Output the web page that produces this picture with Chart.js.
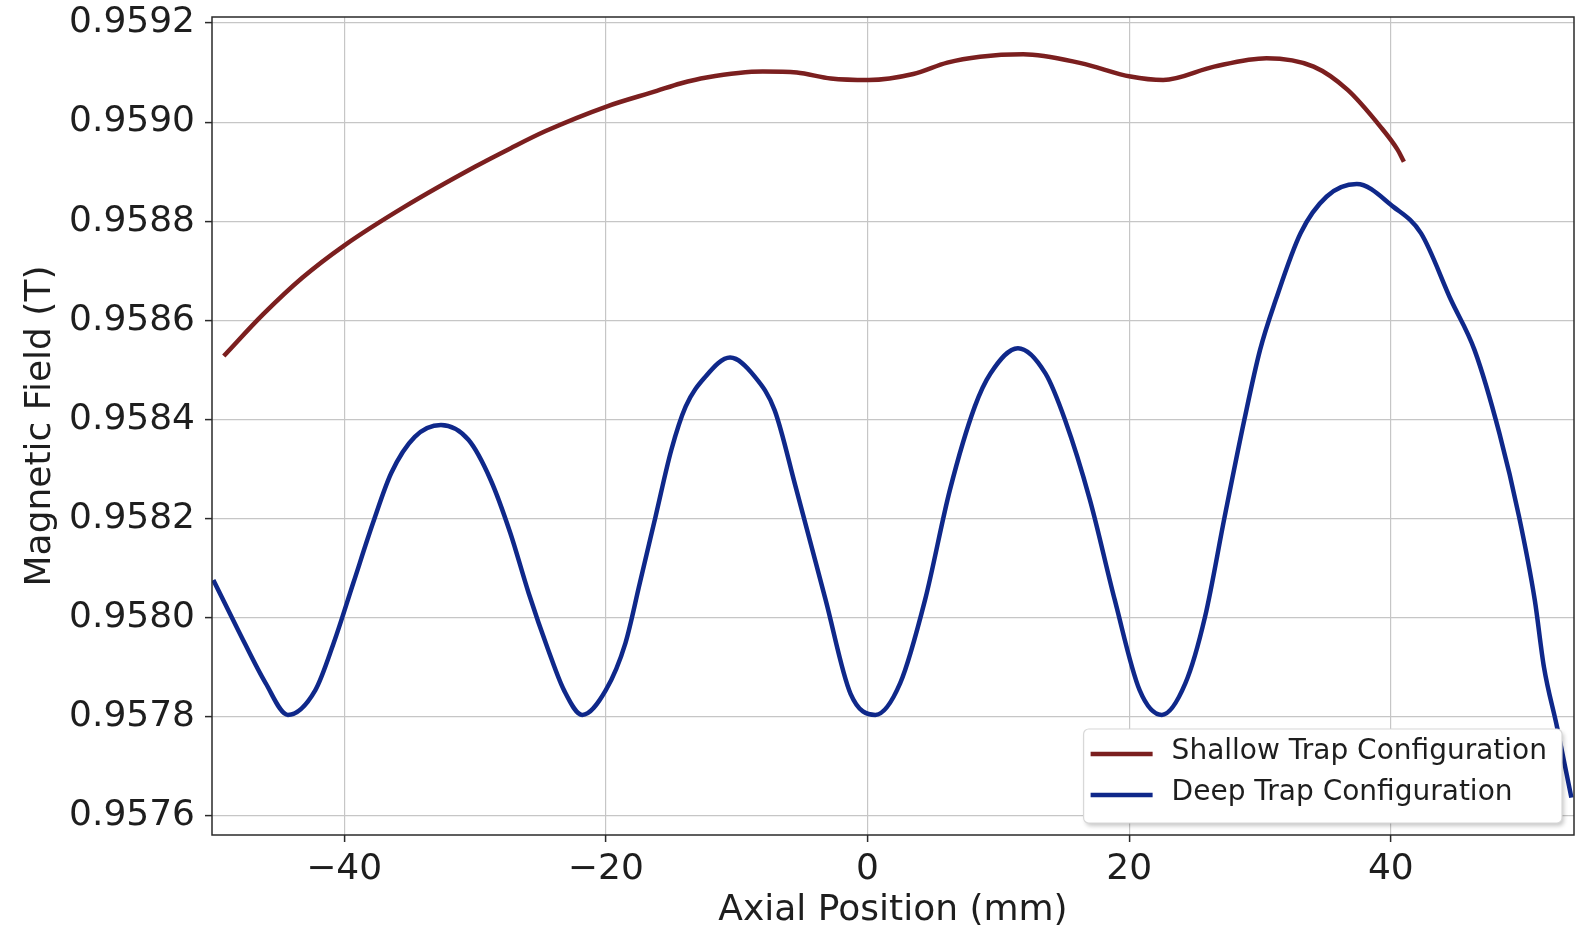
<!DOCTYPE html>
<html>
<head>
<meta charset="utf-8">
<script src="https://cdn.jsdelivr.net/npm/chart.js@4.4.1/dist/chart.umd.min.js"></script>
<style>
  html, body { margin: 0; padding: 0; background: #fff; }
</style>
</head>
<body>
<canvas id="chart" width="1583" height="927"></canvas>
<script>
// values
const shallowX = [-49.2, -46.2, -43.2, -40.0, -35.4, -30.0, -27.3, -24.6, -20.0, -16.1,
  -14.3, -12.3, -8.0, -5.4, -2.8, 0.1, 3.5, 6.1, 8.6, 11.9,
  16.3, 20.1, 22.6, 26.5, 30.5, 34.1, 36.7, 39.2, 40.5, 41.0];
const shallowY = [0.958528, 0.958612, 0.958686, 0.958751, 0.958829, 0.958910, 0.958947, 0.958982, 0.959031, 0.959063,
  0.959078, 0.959090, 0.959102, 0.959100, 0.959088, 0.959085, 0.959097, 0.959120, 0.959132, 0.959137,
  0.959119, 0.959092, 0.959085, 0.959112, 0.959129, 0.959112, 0.959065, 0.958991, 0.958945, 0.958920];

const deepX = [-50.0, -48.1, -46.0, -44.3, -42.2, -40.8, -39.3, -37.8, -36.4, -34.6,
  -32.6, -30.5, -28.8, -27.3, -25.9, -24.4, -23.2, -21.8, -20.0, -18.5,
  -17.4, -16.2, -15.0, -13.9, -12.4, -10.5, -8.6, -7.1, -5.5, -3.2,
  -1.3, 0.6, 2.5, 4.4, 6.3, 8.2, 9.4, 11.5, 13.6, 15.1,
  17.0, 18.9, 20.8, 22.5, 24.3, 25.8, 27.3, 28.8, 30.0, 31.2,
  33.1, 35.1, 37.4, 40.2, 42.3, 44.6, 46.4, 48.3, 49.8, 51.0,
  51.7, 52.7, 53.8];
const deepY = [0.958076, 0.957975, 0.957868, 0.957804, 0.957854, 0.957949, 0.958070, 0.958191, 0.958292, 0.958365,
  0.958389, 0.958359, 0.958278, 0.958171, 0.958050, 0.957935, 0.957854, 0.957804, 0.957854, 0.957949,
  0.958070, 0.958204, 0.958338, 0.958426, 0.958486, 0.958525, 0.958486, 0.958419, 0.958265, 0.958036,
  0.957847, 0.957804, 0.957868, 0.958036, 0.958258, 0.958426, 0.958493, 0.958544, 0.958493, 0.958399,
  0.958238, 0.958036, 0.957854, 0.957804, 0.957868, 0.958002, 0.958204, 0.958399, 0.958540, 0.958641,
  0.958776, 0.958850, 0.958875, 0.958829, 0.958776, 0.958641, 0.958540, 0.958372, 0.958204, 0.958036,
  0.957901, 0.957780, 0.957637];

const xTicks = [-40, -20, 0, 20, 40];
const yTicks = [0.9576, 0.9578, 0.9580, 0.9582, 0.9584, 0.9586, 0.9588, 0.9590, 0.9592];
const seriesNames = ['Shallow Trap Configuration', 'Deep Trap Configuration'];

const FONT = "'DejaVu Sans', sans-serif";
const TEXT = '#1e1e1e';

function toPoints(xs, ys) {
  return xs.map((x, i) => ({ x: x, y: ys[i] }));
}

// matplotlib style box round the plot
const framePlugin = {
  id: 'frame',
  afterDatasetsDraw(chart) {
    const { ctx, chartArea: a } = chart;
    ctx.save();
    ctx.strokeStyle = '#2a2a2a';
    ctx.lineWidth = 1.5;
    ctx.strokeRect(a.left, a.top, a.right - a.left, a.bottom - a.top);
    ctx.restore();
  }
};

// legend drawn inside the plot, lower right
const insideLegend = {
  id: 'insideLegend',
  afterDraw(chart, args, o) {
    const { ctx, chartArea } = chart;
    const items = chart.data.datasets;
    ctx.save();
    ctx.font = o.fontSize + 'px ' + FONT;
    const textW = Math.max(...items.map(d => ctx.measureText(d.label).width));
    const w = o.padLeft + o.lineLen + o.gap + textW + o.padRight;
    const h = o.padTop + o.rowH * (items.length - 1) + o.padBottom;
    const x0 = chartArea.right - o.margin - w;
    const y0 = chartArea.bottom - o.margin - h;

    ctx.beginPath();
    ctx.roundRect(x0, y0, w, h, 5);
    ctx.shadowColor = 'rgba(0,0,0,0.22)';
    ctx.shadowOffsetX = 2;
    ctx.shadowOffsetY = 3;
    ctx.shadowBlur = 4;
    ctx.fillStyle = '#ffffff';
    ctx.fill();
    ctx.shadowColor = 'transparent';
    ctx.strokeStyle = '#d8d8d8';
    ctx.lineWidth = 1.2;
    ctx.stroke();

    items.forEach((d, i) => {
      const cy = y0 + o.padTop + i * o.rowH;
      ctx.beginPath();
      ctx.strokeStyle = d.borderColor;
      ctx.lineWidth = 4.5;
      ctx.moveTo(x0 + o.padLeft, cy + 2);
      ctx.lineTo(x0 + o.padLeft + o.lineLen, cy + 2);
      ctx.stroke();
      ctx.fillStyle = TEXT;
      ctx.textBaseline = 'middle';
      ctx.textAlign = 'left';
      ctx.fillText(d.label, x0 + o.padLeft + o.lineLen + o.gap, cy);
    });
    ctx.restore();
  }
};

const ctx = document.getElementById('chart').getContext('2d');
new Chart(ctx, {
  type: 'line',
  data: {
    datasets: [{
      label: seriesNames[0],
      data: toPoints(shallowX, shallowY),
      borderColor: '#7b1f1f',
      borderWidth: 4.5,
      pointRadius: 0,
      cubicInterpolationMode: 'monotone',
      fill: false
    }, {
      label: seriesNames[1],
      data: toPoints(deepX, deepY),
      borderColor: '#0f288a',
      borderWidth: 4.5,
      pointRadius: 0,
      cubicInterpolationMode: 'monotone',
      fill: false
    }]
  },
  options: {
    responsive: false,
    animation: false,
    devicePixelRatio: 1,
    layout: { padding: { top: 17, right: 9, left: 0, bottom: 0 } },
    plugins: {
      legend: { display: false },
      tooltip: { enabled: false },
      insideLegend: {
        fontSize: 28, padLeft: 7, lineLen: 62, gap: 19, padRight: 15,
        padTop: 23, rowH: 41, padBottom: 30, margin: 12
      }
    },
    scales: {
      x: {
        type: 'linear',
        min: -50.1,
        max: 54.0,
        afterBuildTicks: (scale) => { scale.ticks = xTicks.map(v => ({ value: v })); },
        afterFit: (scale) => {
          scale.height = 92;
          scale.paddingLeft = 0; scale.paddingRight = 0;
        },
        grid: { color: '#c6c6c6', lineWidth: 1.2, drawTicks: true, tickLength: 7, tickColor: '#2a2a2a', tickWidth: 1.5 },
        border: { display: false },
        ticks: {
          font: { family: FONT, size: 36 },
          color: TEXT,
          padding: 6,
          maxRotation: 0,
          callback: (v) => v < 0 ? '\u2212' + Math.abs(v) : String(v)
        },
        title: {
          display: true,
          text: 'Axial Position (mm)',
          font: { family: FONT, size: 36, lineHeight: 0.92 },
          color: TEXT,
          padding: { top: 0, bottom: 0 }
        }
      },
      y: {
        type: 'linear',
        min: 0.9575617,
        max: 0.9592121,
        afterBuildTicks: (scale) => { scale.ticks = yTicks.map(v => ({ value: v })); },
        afterFit: (scale) => {
          scale.width = 212;
          scale.paddingTop = 0; scale.paddingBottom = 0;
        },
        grid: { color: '#c6c6c6', lineWidth: 1.2, drawTicks: true, tickLength: 7, tickColor: '#2a2a2a', tickWidth: 1.5 },
        border: { display: false },
        ticks: {
          font: { family: FONT, size: 36 },
          color: TEXT,
          padding: 10,
          callback: (v) => v.toFixed(4)
        },
        title: {
          display: true,
          text: 'Magnetic Field (T)',
          font: { family: FONT, size: 36 },
          color: TEXT,
          padding: { top: 19, bottom: 0 }
        }
      }
    }
  },
  plugins: [framePlugin, insideLegend]
});
</script>
</body>
</html>
